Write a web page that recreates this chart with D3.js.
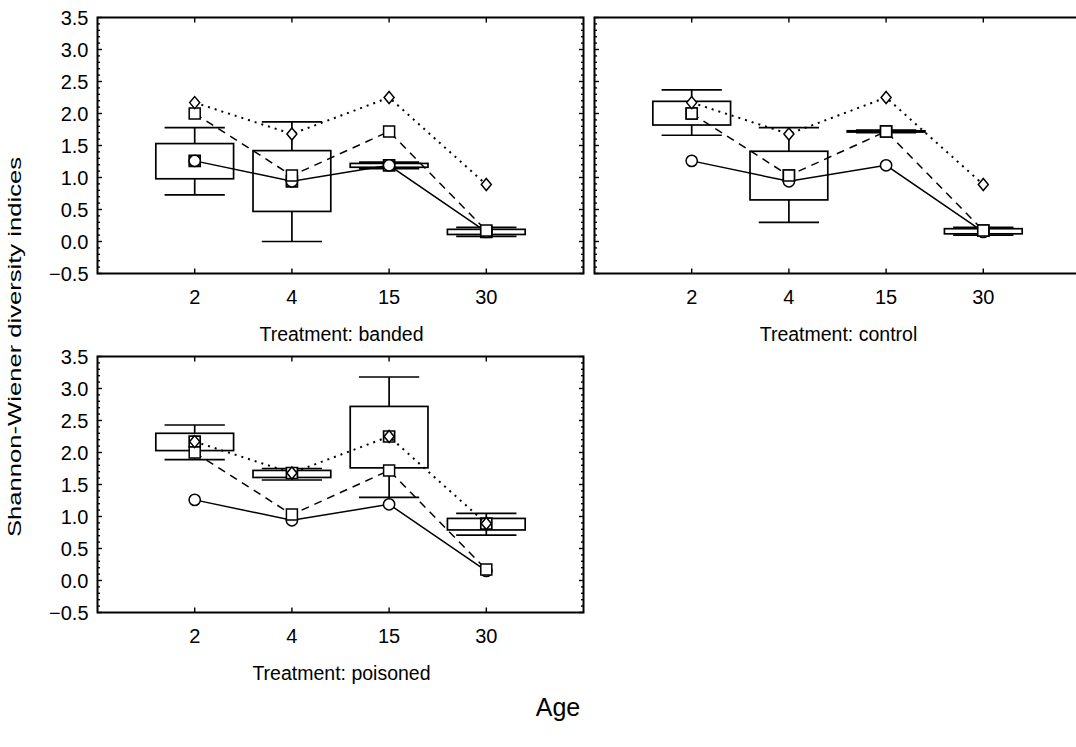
<!DOCTYPE html>
<html>
<head>
<meta charset="utf-8">
<script src="https://cdn.jsdelivr.net/npm/d3@7"></script>
<style>
  html, body { margin: 0; padding: 0; background: #fff; }
  svg { display: block; font-family: "Liberation Sans", Arial, sans-serif; }
</style>
</head>
<body>
<svg id="chart" width="1076" height="747"></svg>
<script>
// Age classes on the x axis
const ages = ["2", "4", "15", "30"];
const yTicks = [-0.5, 0.0, 0.5, 1.0, 1.5, 2.0, 2.5, 3.0, 3.5];

// Mean Shannon-Wiener index per treatment (overlaid in every panel)
const meanBanded   = [1.26, 0.94, 1.19, 0.15];
const meanControl  = [2.00, 1.03, 1.72, 0.17];
const meanPoisoned = [2.17, 1.68, 2.25, 0.89];

// Box (mean ± SE) and whisker (± 1.96 SE) limits for each treatment
const bandedBoxLo   = [0.98, 0.47, 1.16, 0.11];
const bandedBoxHi   = [1.53, 1.42, 1.22, 0.19];
const bandedWhLo    = [0.73, 0.00, 1.14, 0.08];
const bandedWhHi    = [1.78, 1.87, 1.24, 0.22];

const controlBoxLo  = [1.82, 0.65, 1.71, 0.12];
const controlBoxHi  = [2.19, 1.41, 1.73, 0.20];
const controlWhLo   = [1.66, 0.30, 1.70, 0.10];
const controlWhHi   = [2.37, 1.78, 1.74, 0.22];

const poisonedBoxLo = [2.03, 1.61, 1.76, 0.79];
const poisonedBoxHi = [2.30, 1.72, 2.72, 0.97];
const poisonedWhLo  = [1.89, 1.57, 1.30, 0.71];
const poisonedWhHi  = [2.43, 1.75, 3.18, 1.05];

const series = [
  { values: meanBanded,   dash: null,  width: 1.5, marker: "circle" },
  { values: meanControl,  dash: "8,6", width: 1.5, marker: "square" },
  { values: meanPoisoned, dash: "2,5", width: 2,   marker: "diamond" }
];

const boxes = {
  banded:   { mean: meanBanded,   boxLo: bandedBoxLo,   boxHi: bandedBoxHi,   whLo: bandedWhLo,   whHi: bandedWhHi },
  control:  { mean: meanControl,  boxLo: controlBoxLo,  boxHi: controlBoxHi,  whLo: controlWhLo,  whHi: controlWhHi },
  poisoned: { mean: meanPoisoned, boxLo: poisonedBoxLo, boxHi: poisonedBoxHi, whLo: poisonedWhLo, whHi: poisonedWhHi }
};

const panelW = 486, panelH = 256;
const panels = [
  { treat: "banded",   x0: 97.5,  y0: 17.5,  labels: true },
  { treat: "control",  x0: 594.5, y0: 17.5,  labels: false },
  { treat: "poisoned", x0: 97.5,  y0: 356.5, labels: true }
];

const x = d3.scalePoint().domain(ages).range([0, panelW]).padding(1);
const y = d3.scaleLinear().domain([-0.5, 3.5]).range([panelH, 0]);

const svg = d3.select("#chart");
const tickFont = 20;
const captionFont = 19.5;

const boxHalf = x.step() * 0.4;
const capHalf = x.step() * 0.31;

function markerPath(type) {
  if (type === "circle") return d3.symbol(d3.symbolCircle, 100)();
  if (type === "square") return "M-5.5,-5.5H5.5V5.5H-5.5Z";
  return "M0,-6L5,0L0,6L-5,0Z";
}

panels.forEach(p => {
  const g = svg.append("g").attr("transform", `translate(${p.x0},${p.y0})`);

  // minor y ticks every 0.1, major every 0.5, inward on both sides
  const minor = d3.range(-5, 36).map(i => i / 10);
  minor.forEach(v => {
    const isMajor = Math.abs(v * 2 - Math.round(v * 2)) < 1e-6;
    const len = isMajor ? 4.5 : 2.5;
    g.append("line").attr("x1", 0).attr("x2", len)
      .attr("y1", y(v)).attr("y2", y(v)).attr("stroke", "#000").attr("stroke-width", 1.4);
    g.append("line").attr("x1", panelW).attr("x2", panelW - len)
      .attr("y1", y(v)).attr("y2", y(v)).attr("stroke", "#000").attr("stroke-width", 1.4);
  });

  // x ticks inward on top and bottom
  ages.forEach(a => {
    g.append("line").attr("x1", x(a)).attr("x2", x(a)).attr("y1", 0).attr("y2", 5)
      .attr("stroke", "#000").attr("stroke-width", 1.4);
    g.append("line").attr("x1", x(a)).attr("x2", x(a)).attr("y1", panelH).attr("y2", panelH - 5)
      .attr("stroke", "#000").attr("stroke-width", 1.4);
  });

  // y tick labels
  if (p.labels) {
    g.selectAll(".ylab").data(yTicks).join("text")
      .attr("x", -9).attr("y", d => y(d)).attr("dy", "0.36em")
      .attr("text-anchor", "end").attr("font-size", tickFont)
      .text(d => d3.format(".1f")(d));
  }

  // x tick labels
  g.selectAll(".xlab").data(ages).join("text")
    .attr("x", d => x(d)).attr("y", panelH + 30.5)
    .attr("text-anchor", "middle").attr("font-size", tickFont)
    .text(d => d);

  // panel caption
  g.append("text").attr("x", panelW / 2 + 1).attr("y", panelH + 67)
    .attr("text-anchor", "middle").attr("font-size", captionFont)
    .text("Treatment: " + p.treat);

  // box plot for this treatment
  const b = boxes[p.treat];
  const bp = g.append("g").attr("stroke", "#000").attr("stroke-width", 1.7).attr("fill", "#fff");
  ages.forEach((a, i) => {
    const cx = x(a);
    bp.append("line").attr("x1", cx).attr("x2", cx).attr("y1", y(b.whHi[i])).attr("y2", y(b.boxHi[i]));
    bp.append("line").attr("x1", cx).attr("x2", cx).attr("y1", y(b.boxLo[i])).attr("y2", y(b.whLo[i]));
    bp.append("line").attr("x1", cx - capHalf).attr("x2", cx + capHalf).attr("y1", y(b.whHi[i])).attr("y2", y(b.whHi[i]));
    bp.append("line").attr("x1", cx - capHalf).attr("x2", cx + capHalf).attr("y1", y(b.whLo[i])).attr("y2", y(b.whLo[i]));
    bp.append("rect").attr("x", cx - boxHalf).attr("width", boxHalf * 2)
      .attr("y", y(b.boxHi[i])).attr("height", y(b.boxLo[i]) - y(b.boxHi[i]));
    bp.append("path").attr("d", markerPath("square"))
      .attr("transform", `translate(${cx},${y(b.mean[i])})`);
  });

  // treatment mean lines with markers
  series.forEach(s => {
    const line = d3.line().x((d, i) => x(ages[i])).y(d => y(d));
    g.append("path").attr("d", line(s.values)).attr("fill", "none")
      .attr("stroke", "#000").attr("stroke-width", s.width)
      .attr("stroke-dasharray", s.dash);
    g.selectAll(null).data(s.values).join("path")
      .attr("d", markerPath(s.marker))
      .attr("transform", (d, i) => `translate(${x(ages[i])},${y(d)})`)
      .attr("fill", "#fff").attr("stroke", "#000").attr("stroke-width", 1.5);
  });

  // frame
  g.append("rect").attr("x", 0).attr("y", 0).attr("width", panelW).attr("height", panelH)
    .attr("fill", "none").attr("stroke", "#000").attr("stroke-width", 2);
});

// shared axis titles
svg.append("text")
  .attr("transform", "translate(21,347) rotate(-90)")
  .attr("text-anchor", "middle").attr("font-size", 19)
  .attr("textLength", 380).attr("lengthAdjust", "spacingAndGlyphs")
  .text("Shannon-Wiener diversity indices");

svg.append("text")
  .attr("x", 558).attr("y", 716)
  .attr("text-anchor", "middle").attr("font-size", 25)
  .text("Age");
</script>
</body>
</html>
